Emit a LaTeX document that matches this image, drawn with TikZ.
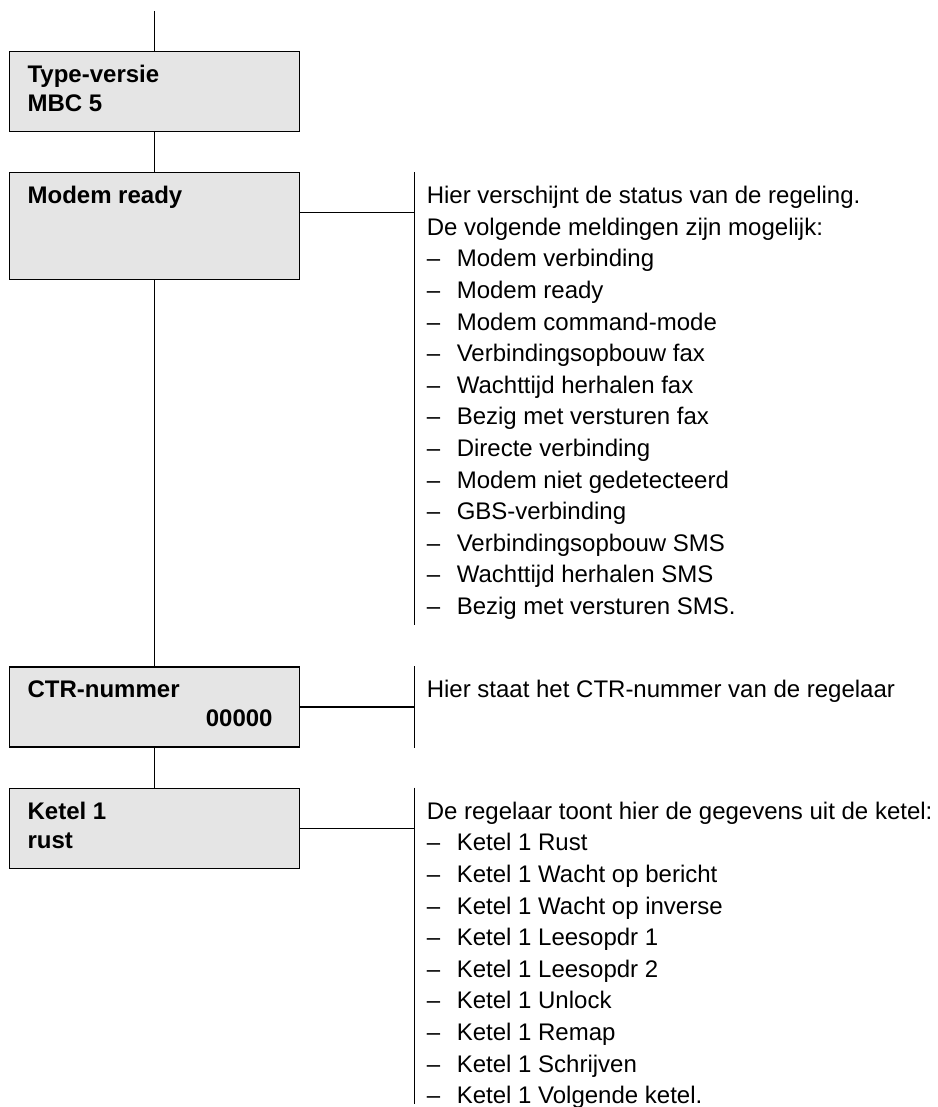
\documentclass[tikz,border=0pt]{standalone}
\usepackage{fontspec}
\setmainfont{Liberation Sans}
\usetikzlibrary{positioning}
\newcommand{\dashitem}{\makebox[15pt][l]{\textendash}}

\begin{document}
\begin{tikzpicture}[
    node distance=20pt,
    line width=0.6pt,
    menu_box/.style={draw, rectangle, fill=black!10, minimum width=145pt, minimum height=40pt, inner sep=0pt},
    box_text/.style={inner sep=0pt, align=left, font=\fontsize{12}{14.5}\selectfont\bfseries},
    info_text/.style={inner sep=0pt, align=left, font=\fontsize{12}{15.8}\selectfont}
]

\useasboundingbox (0,0) rectangle (468.5pt,-553.5pt);

% --- MENU BOXES (left column) ---
\node[menu_box, anchor=north west] (typebox) at (4.5pt,-25.5pt) {};
\node[menu_box, below=of typebox, minimum height=53.5pt] (modembox) {};
\node[menu_box, below=193pt of modembox] (ctrbox) {};
\node[menu_box, below=of ctrbox] (ketelbox) {};

% Box texts
\node[box_text, below right=6.8pt and 9pt of typebox.north west, anchor=north west] (typelabel) {Type-versie\\MBC 5};
\node[box_text, below right=6.8pt and 9pt of modembox.north west, anchor=north west] (modemlabel) {Modem ready};
\node[box_text, below right=6.8pt and 9pt of ctrbox.north west, anchor=north west] (ctrlabel) {CTR-nummer};
\node[box_text, below left=21.4pt and 13.5pt of ctrbox.north east, anchor=north east] (ctrvalue) {00000};
\node[box_text, below right=6.8pt and 9pt of ketelbox.north west, anchor=north west] (ketellabel) {Ketel 1\\rust};

% --- VERTICAL FLOW ---
\coordinate[above=of typebox.north] (entry);
\draw (entry) -- (typebox.north);
\draw (typebox.south) -- (modembox.north);
\draw (modembox.south) -- (ctrbox.north);
\draw (ctrbox.south) -- (ketelbox.north);

% --- BARS (right column) ---
\coordinate[right=57pt of modembox.north east] (modembartop);
\coordinate[below=226.5pt of modembartop] (modembarbot);
\coordinate[right=57pt of ctrbox.north east] (ctrbartop);
\coordinate[right=57pt of ctrbox.south east] (ctrbarbot);
\coordinate[right=57pt of ketelbox.north east] (ketelbartop);
\coordinate[below=158pt of ketelbartop] (ketelbarbot);

\draw (modembartop) -- (modembarbot);
\draw (ctrbartop) -- (ctrbarbot);
\draw (ketelbartop) -- (ketelbarbot);

% Links box -> bar
\coordinate[below=20pt of modembartop] (modemjoin);
\draw (modembox.east |- modemjoin) -- (modemjoin);
\coordinate[right=57pt of ctrbox.east] (ctrjoin);
\draw (ctrbox.east) -- (ctrjoin);
\coordinate[right=57pt of ketelbox.east] (keteljoin);
\draw (ketelbox.east) -- (keteljoin);

% --- DESCRIPTIONS ---
\node[info_text, below right=6.8pt and 6pt of modembartop, anchor=north west] (modeminfo) {%
Hier verschijnt de status van de regeling.\\
De volgende meldingen zijn mogelijk:\\
\dashitem Modem verbinding\\
\dashitem Modem ready\\
\dashitem Modem command-mode\\
\dashitem Verbindingsopbouw fax\\
\dashitem Wachttijd herhalen fax\\
\dashitem Bezig met versturen fax\\
\dashitem Directe verbinding\\
\dashitem Modem niet gedetecteerd\\
\dashitem GBS-verbinding\\
\dashitem Verbindingsopbouw SMS\\
\dashitem Wachttijd herhalen SMS\\
\dashitem Bezig met versturen SMS.};

\node[info_text, below right=6.8pt and 6pt of ctrbartop, anchor=north west] (ctrinfo) {Hier staat het CTR-nummer van de regelaar};

\node[info_text, below right=6.8pt and 6pt of ketelbartop, anchor=north west] (ketelinfo) {%
De regelaar toont hier de gegevens uit de ketel:\\
\dashitem Ketel 1 Rust\\
\dashitem Ketel 1 Wacht op bericht\\
\dashitem Ketel 1 Wacht op inverse\\
\dashitem Ketel 1 Leesopdr 1\\
\dashitem Ketel 1 Leesopdr 2\\
\dashitem Ketel 1 Unlock\\
\dashitem Ketel 1 Remap\\
\dashitem Ketel 1 Schrijven\\
\dashitem Ketel 1 Volgende ketel.};

\end{tikzpicture}
\end{document}
